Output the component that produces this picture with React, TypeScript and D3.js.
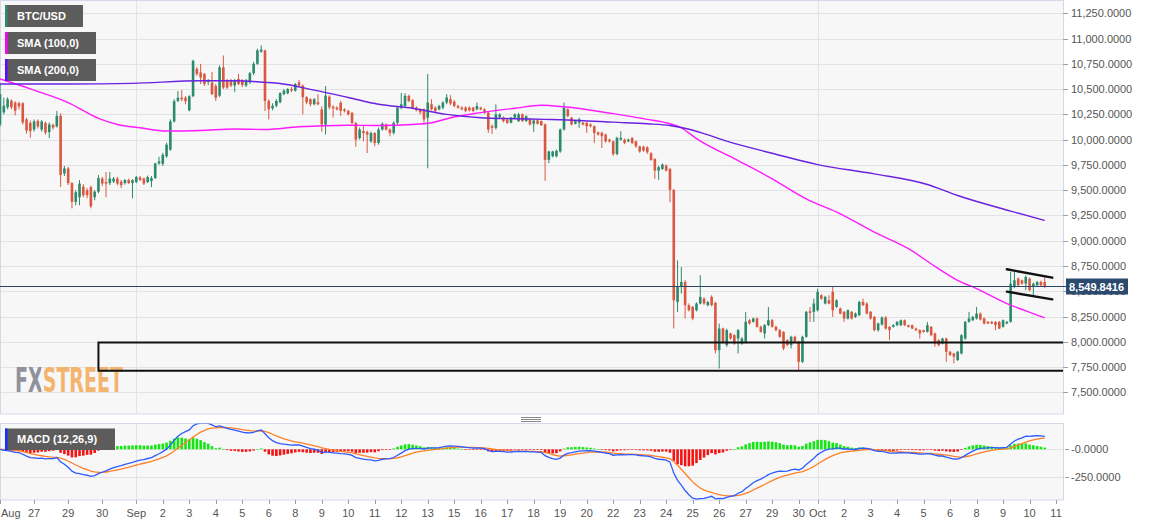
import React from 'react';
import * as d3 from 'd3';

// ---------- DATA (4h candles, Aug 26 – Oct 11) ----------
const openP = [
  10150, 10270, 10320, 10385, 10365, 10360, 10360, 10200, 10165, 10100,
  10185, 10100, 10165, 10075, 10145, 10130, 10235, 9665, 9715, 9570,
  9385, 9430, 9535, 9500, 9530, 9430, 9485, 9615, 9580, 9570,
  9585, 9615, 9585, 9570, 9600, 9570, 9580, 9625, 9615, 9580,
  9590, 9620, 9765, 9760, 9835, 9900, 10180, 10383, 10415, 10415,
  10290, 10430, 10700, 10665, 10650, 10570, 10565, 10530, 10435, 10715,
  10585, 10585, 10535, 10600, 10590, 10535, 10567, 10657, 10750, 10870,
  10883, 10383, 10310, 10335, 10370, 10450, 10460, 10500, 10485, 10567,
  10535, 10420, 10400, 10350, 10370, 10300, 10150, 10425, 10325, 10317,
  10365, 10300, 10285, 10265, 10165, 10017, 10085, 10075, 9983, 10065,
  9967, 10100, 10150, 10100, 10067, 10167, 10317, 10333, 10433, 10390,
  10317, 10300, 10300, 10217, 10350, 10317, 10300, 10317, 10367, 10400,
  10377, 10333, 10317, 10317, 10317, 10317, 10300, 10317, 10300, 10267,
  10133, 10117, 10223, 10217, 10200, 10167, 10217, 10183, 10250, 10183,
  10200, 10157, 10190, 10183, 10150, 9800, 9835, 9835, 9883, 10100,
  10300, 10217, 10157, 10167, 10167, 10167, 10150, 10133, 10073, 10067,
  10050, 10000, 9983, 9857, 10000, 10000, 9983, 10017, 9983, 9933,
  9931, 9924, 9865, 9809, 9694, 9710, 9743, 9710, 9503, 8394,
  8542, 8592, 8362, 8345, 8312, 8378, 8427, 8362, 8444, 8385,
  7917, 8131, 7967, 8082, 8065, 8032, 7983, 7999, 8213, 8197,
  8230, 8148, 8082, 8164, 8213, 8148, 8115, 8098, 8016, 7967,
  8049, 7999, 7802, 8049, 8302, 8296, 8312, 8460, 8378, 8411,
  8493, 8345, 8329, 8296, 8230, 8296, 8246, 8263, 8394, 8378,
  8296, 8246, 8115, 8170, 8240, 8148, 8148, 8164, 8164, 8213,
  8164, 8164, 8131, 8115, 8115, 8098, 8148, 8082, 8016, 7983,
  8032, 7901, 7884, 7819, 7884, 8032, 8197, 8213, 8230, 8279,
  8230, 8197, 8197, 8197, 8197, 8148, 8181, 8197, 8542, 8625,
  8608, 8575, 8625, 8542, 8559, 8592, 8592,
];
const highP = [
  10560, 10415, 10420, 10400, 10380, 10375, 10370, 10215, 10190, 10200,
  10200, 10195, 10180, 10170, 10160, 10285, 10260, 9740, 9730, 9580,
  9500, 9600, 9560, 9520, 9545, 9500, 9650, 9630, 9680, 9680,
  9630, 9630, 9600, 9610, 9615, 9610, 9640, 9640, 9625, 9645,
  9640, 9770, 9830, 9870, 9970, 10200, 10400, 10480, 10490, 10430,
  10440, 10790, 10720, 10750, 10660, 10600, 10670, 10550, 10735, 10833,
  10600, 10600, 10600, 10650, 10600, 10600, 10670, 10770, 10900, 10933,
  10890, 10400, 10360, 10400, 10470, 10500, 10510, 10520, 10560, 10590,
  10545, 10430, 10410, 10410, 10450, 10330, 10530, 10440, 10340, 10330,
  10385, 10310, 10295, 10275, 10175, 10120, 10135, 10090, 10080, 10075,
  10120, 10170, 10160, 10110, 10180, 10330, 10460, 10460, 10445, 10400,
  10330, 10310, 10310, 10650, 10400, 10330, 10345, 10380, 10450, 10440,
  10390, 10345, 10330, 10330, 10330, 10325, 10367, 10325, 10310, 10280,
  10150, 10350, 10260, 10230, 10210, 10225, 10260, 10265, 10260, 10240,
  10210, 10200, 10200, 10190, 10160, 9890, 9890, 9900, 10110, 10367,
  10310, 10225, 10190, 10217, 10175, 10175, 10160, 10140, 10080, 10080,
  10060, 10010, 9990, 10030, 10083, 10010, 10010, 10025, 9990, 9940,
  9940, 9935, 9875, 9815, 9740, 9765, 9755, 9720, 9510, 8806,
  8740, 8610, 8380, 8355, 8390, 8658, 8440, 8405, 8460, 8395,
  8180, 8140, 8130, 8090, 8075, 8125, 8045, 8296, 8225, 8240,
  8240, 8160, 8175, 8345, 8225, 8160, 8125, 8105, 8025, 8060,
  8060, 8010, 8060, 8305, 8345, 8427, 8526, 8470, 8455, 8460,
  8542, 8420, 8340, 8305, 8320, 8305, 8290, 8405, 8427, 8390,
  8305, 8255, 8190, 8250, 8255, 8155, 8175, 8205, 8220, 8220,
  8170, 8170, 8140, 8125, 8120, 8197, 8155, 8090, 8025, 8040,
  8040, 7910, 7890, 7910, 8075, 8205, 8296, 8255, 8345, 8290,
  8240, 8205, 8205, 8205, 8205, 8220, 8205, 8690, 8690, 8635,
  8615, 8658, 8635, 8585, 8600, 8605, 8640,
];
const lowP = [
  10130, 10250, 10300, 10300, 10240, 10300, 10150, 10060, 10020, 10080,
  10110, 10080, 10050, 10015, 10100, 10120, 9530, 9640, 9550, 9320,
  9350, 9350, 9430, 9420, 9320, 9400, 9470, 9540, 9430, 9550,
  9570, 9550, 9520, 9555, 9560, 9420, 9570, 9590, 9550, 9570,
  9530, 9610, 9750, 9740, 9820, 9890, 10170, 10370, 10380, 10350,
  10280, 10420, 10630, 10550, 10530, 10540, 10440, 10383, 10420, 10500,
  10500, 10520, 10470, 10540, 10520, 10520, 10550, 10640, 10740, 10860,
  10283, 10200, 10290, 10320, 10360, 10440, 10450, 10470, 10475, 10525,
  10250, 10350, 10330, 10340, 10340, 10080, 10050, 10300, 10220, 10290,
  10235, 10270, 10240, 10150, 9930, 10000, 9983, 9867, 9970, 9933,
  9950, 10090, 10090, 10033, 10050, 10150, 10300, 10320, 10370, 10300,
  10280, 10250, 10167, 9717, 10290, 10270, 10290, 10300, 10350, 10340,
  10320, 10305, 10290, 10270, 10280, 10270, 10290, 10290, 10255, 10067,
  10057, 10100, 10210, 10170, 10155, 10160, 10210, 10175, 10175, 10175,
  10140, 10077, 10150, 10135, 9593, 9767, 9825, 9825, 9870, 10090,
  10220, 10140, 10150, 10117, 10140, 10067, 10120, 9967, 10040, 9917,
  9970, 9970, 9840, 9845, 9990, 9955, 9975, 9955, 9920, 9870,
  9880, 9860, 9790, 9612, 9602, 9700, 9685, 9381, 8131, 8296,
  8477, 8230, 8300, 8213, 8300, 8370, 8365, 8350, 8350, 7884,
  7736, 7985, 7950, 8020, 7970, 7884, 7970, 7985, 8170, 8190,
  8140, 8090, 8032, 8155, 8140, 8105, 8040, 7917, 7955, 7934,
  7990, 7720, 7790, 8040, 8197, 8197, 8300, 8415, 8370, 8370,
  8246, 8335, 8270, 8197, 8220, 8220, 8235, 8255, 8355, 8270,
  8220, 8105, 8100, 8160, 8120, 8016, 8140, 8155, 8155, 8155,
  8140, 8125, 8105, 8032, 8090, 8090, 8055, 7950, 7955, 7975,
  7802, 7860, 7786, 7810, 7875, 8020, 8190, 8205, 8220, 8210,
  8170, 8175, 8175, 8115, 8125, 8140, 8175, 8190, 8530, 8550,
  8565, 8510, 8500, 8460, 8550, 8550, 8530,
];
const closeP = [
  10450, 10335, 10400, 10320, 10285, 10330, 10170, 10090, 10085, 10180,
  10130, 10180, 10070, 10150, 10120, 10235, 9650, 9715, 9570, 9385,
  9480, 9565, 9450, 9450, 9340, 9485, 9620, 9565, 9565, 9615,
  9615, 9565, 9550, 9600, 9570, 9600, 9630, 9600, 9565, 9630,
  9620, 9765, 9785, 9850, 9950, 10180, 10380, 10415, 10400, 10380,
  10430, 10780, 10650, 10615, 10550, 10585, 10450, 10415, 10715, 10515,
  10515, 10535, 10585, 10550, 10540, 10585, 10657, 10750, 10883, 10890,
  10383, 10300, 10335, 10383, 10460, 10485, 10500, 10485, 10550, 10535,
  10420, 10370, 10350, 10400, 10350, 10150, 10435, 10320, 10310, 10300,
  10285, 10285, 10250, 10165, 10000, 10100, 10065, 10050, 10065, 9967,
  10100, 10157, 10100, 10067, 10167, 10317, 10350, 10433, 10383, 10317,
  10290, 10270, 10200, 10367, 10300, 10283, 10333, 10367, 10417, 10357,
  10333, 10317, 10300, 10283, 10290, 10283, 10333, 10300, 10267, 10100,
  10117, 10250, 10250, 10183, 10167, 10217, 10250, 10250, 10183, 10233,
  10150, 10190, 10157, 10143, 9800, 9883, 9883, 9890, 10100, 10317,
  10233, 10150, 10183, 10200, 10150, 10133, 10133, 10067, 10050, 10033,
  9983, 9983, 9857, 10017, 10017, 9967, 10000, 9967, 9933, 9883,
  9891, 9875, 9799, 9694, 9727, 9753, 9694, 9503, 8411, 8542,
  8592, 8362, 8312, 8230, 8378, 8444, 8378, 8394, 8362, 7917,
  8131, 7999, 8115, 8032, 7983, 8115, 8032, 8197, 8181, 8230,
  8148, 8098, 8164, 8213, 8148, 8115, 8049, 7934, 7967, 8049,
  7999, 7802, 8049, 8296, 8286, 8378, 8493, 8427, 8444, 8378,
  8312, 8411, 8279, 8230, 8312, 8230, 8279, 8394, 8362, 8279,
  8230, 8115, 8181, 8240, 8131, 8115, 8164, 8197, 8213, 8164,
  8148, 8131, 8115, 8082, 8098, 8164, 8065, 7983, 7967, 8032,
  7901, 7868, 7852, 7901, 8065, 8197, 8230, 8246, 8279, 8220,
  8181, 8181, 8181, 8164, 8131, 8213, 8197, 8575, 8608, 8559,
  8575, 8641, 8510, 8575, 8592, 8559, 8549.8416,
];

// SMA readings [candle index, value]
const sma100: Array<[number, number]> = [
  [0, 10600], [9, 10490], [18, 10367], [26, 10210], [31, 10150], [37, 10117], [44, 10085],
  [53, 10090], [62, 10105], [70, 10100], [79, 10127], [92, 10143], [100, 10140], [109, 10150],
  [114, 10167], [119, 10217], [127, 10267], [136, 10310], [143, 10340], [149, 10325], [162, 10257],
  [171, 10200], [177, 10157], [180, 10117], [184, 10010], [195, 9793], [204, 9612], [213, 9414],
  [222, 9266], [231, 9085], [240, 8921], [247, 8746], [253, 8608], [258, 8526], [267, 8362],
  [271, 8306], [276, 8236],
];
const sma200: Array<[number, number]> = [
  [0, 10550], [18, 10550], [35, 10557], [53, 10583], [62, 10583], [70, 10567], [74, 10555],
  [83, 10490], [92, 10417], [100, 10350], [109, 10310], [118, 10250], [127, 10217], [136, 10207],
  [144, 10200], [153, 10190], [162, 10173], [171, 10157], [177, 10140], [180, 10120], [186, 10060],
  [192, 9985], [204, 9865], [216, 9753], [231, 9661], [245, 9556], [253, 9447], [267, 9293],
  [276, 9200],
];

const lastPrice = 8549.8416;
const supportZone = { top: 7992, bottom: 7714, start: 26 };
const flagUpper: Array<[number, number]> = [[266, 8717], [278, 8634]];
const flagLower: Array<[number, number]> = [[266, 8496], [278, 8420]];

const priceTicks = d3.range(7500, 11251, 250);
const macdTicks: Array<[number, string]> = [[0, '-0.0000'], [-250, '-250.0000']];
const xTicks: Array<[number, string]> = [
  [0, 'Aug'], [9, '27'], [18, '29'], [27, '30'], [36, 'Sep'], [43, '2'], [50, '3'], [57, '4'],
  [64, '5'], [71, '6'], [78, '8'], [85, '9'], [92, '10'], [99, '11'], [106, '12'], [113, '13'],
  [120, '15'], [127, '16'], [134, '17'], [141, '18'], [148, '19'], [155, '20'], [162, '22'],
  [169, '23'], [176, '24'], [183, '25'], [190, '26'], [197, '27'], [204, '29'], [211, '30'],
  [216, 'Oct'], [223, '2'], [230, '3'], [237, '4'], [244, '5'], [251, '6'], [258, '8'],
  [265, '9'], [272, '10'], [279, '11'],
];
const monthStarts = [36, 216];

const legends = [
  { label: 'BTC/USD', color: '#2e8b6f', w: 78 },
  { label: 'SMA (100,0)', color: '#ff00ff', w: 91 },
  { label: 'SMA (200,0)', color: '#5a0cff', w: 91 },
];

// ---------- LAYOUT ----------
const W = 1153, H = 526;
const PR = 1063;
const MAIN_B = 414;
const MACD_T = 423.5, MACD_B = 500;
const FONT = '"Liberation Sans", Arial, sans-serif';
const GREEN = '#2b8a6c', RED = '#d95840';

function ema(arr: number[], p: number) {
  const a = 2 / (p + 1);
  const out: number[] = [];
  arr.forEach((v, i) => out.push(i === 0 ? v : a * v + (1 - a) * out[i - 1]));
  return out;
}

export default function App() {
  const x = d3.scaleLinear().domain([0, 276]).range([0.04, 0.04 + 276 * 3.785]);
  const y = d3.scaleLinear().domain([7500, 11250]).range([392.3, 13.3]);
  const ym = d3.scaleLinear().domain([-250, 0]).range([476.7, 449.3]);

  const e12 = ema(closeP, 12), e26 = ema(closeP, 26);
  const macd = e12.map((v, i) => v - e26[i]);
  const signal = ema(macd, 9);
  const hist = macd.map((v, i) => v - signal[i]);

  const smaLine = d3.line<[number, number]>().x(d => x(d[0])).y(d => y(d[1])).curve(d3.curveMonotoneX);
  const macdLine = d3.line<number>().x((_, i) => x(i)).y(d => ym(d));
  const bw = 2.6;
  const py = Math.round(y(lastPrice)) + 0.5;

  return (
    <svg width={W} height={H} style={{ position: 'absolute', left: 0, top: 0, background: '#fff' }} fontFamily={FONT}>
      <defs>
        <clipPath id="mainClip"><rect x={0} y={0} width={PR} height={MAIN_B} /></clipPath>
        <clipPath id="macdClip"><rect x={0} y={MACD_T} width={PR} height={MACD_B - MACD_T} /></clipPath>
        <linearGradient id="wmGrad" gradientUnits="userSpaceOnUse" x1={15} x2={123} y1={0} y2={0}>
          <stop offset="0.237" stopColor="#8f919c" />
          <stop offset="0.237" stopColor="#f2b46e" />
        </linearGradient>
      </defs>
      <rect x={0} y={0} width={W} height={H} fill="#fff" />
      {/* main pane */}
      <rect x={0.5} y={0.5} width={PR} height={MAIN_B - 0.5} fill="#f7f7f7" stroke="#d3d9e6" />
      {priceTicks.map(t => (
        <line key={'g' + t} x1={1} x2={PR} y1={Math.round(y(t)) + 0.5} y2={Math.round(y(t)) + 0.5} stroke="#e2e2e2" />
      ))}
      {monthStarts.map(i => (
        <line key={'v' + i} x1={Math.round(x(i)) + 0.5} x2={Math.round(x(i)) + 0.5} y1={1} y2={MAIN_B} stroke="#e2e2e2" />
      ))}
      {/* watermark */}
      <text x={15} y={392} fontSize={33} fontWeight="bold" textLength={108} lengthAdjust="spacingAndGlyphs"
        fill="url(#wmGrad)" fontFamily='"DejaVu Sans Condensed", "Liberation Sans Narrow", sans-serif'>FXSTREET</text>

      <g clipPath="url(#mainClip)">
        {/* candles */}
        {closeP.map((c, i) => {
          const o = openP[i];
          const col = c >= o ? GREEN : RED;
          const cx = x(i);
          const top = y(Math.max(o, c));
          const bot = y(Math.min(o, c));
          return (
            <g key={'c' + i}>
              <line x1={cx} x2={cx} y1={y(highP[i])} y2={y(lowP[i])} stroke={col} strokeWidth={1} />
              <rect x={cx - bw / 2} y={top} width={bw} height={Math.max(1, bot - top)} fill={col} />
            </g>
          );
        })}
        <path d={smaLine(sma100) || ''} fill="none" stroke="#ff1aff" strokeWidth={1.4} />
        <path d={smaLine(sma200) || ''} fill="none" stroke="#6a22e0" strokeWidth={1.4} />
        {/* current price line */}
        <line x1={0} x2={PR} y1={py} y2={py} stroke="#2b4569" strokeWidth={1} />
        {/* support zone */}
        <path
          d={`M${PR},${y(supportZone.top)}H${x(supportZone.start)}V${y(supportZone.bottom)}H${PR}`}
          fill="none" stroke="#111" strokeWidth={2}
        />
        {/* flag */}
        {[flagUpper, flagLower].map((f, k) => (
          <line key={'f' + k} x1={x(f[0][0])} y1={y(f[0][1])} x2={x(f[1][0])} y2={y(f[1][1])} stroke="#111" strokeWidth={2.4} strokeLinecap="round" />
        ))}
      </g>
      {/* price axis */}
      {priceTicks.map(t => (
        <g key={'t' + t}>
          <line x1={PR} x2={PR + 5} y1={Math.round(y(t)) + 0.5} y2={Math.round(y(t)) + 0.5} stroke="#9aa0ab" />
          <text x={1071} y={y(t) + 4} fontSize={11} fill="#555">{d3.format(',.4f')(t)}</text>
        </g>
      ))}
      <line x1={PR} x2={1067} y1={py} y2={py} stroke="#2b4569" />
      <rect x={1066} y={py - 8} width={62} height={16} fill="#2b4a6e" />
      <text x={1069} y={py + 4} fontSize={11} fontWeight="bold" fill="#fff">{d3.format(',.4f')(lastPrice)}</text>

      {/* legends */}
      {legends.map((l, k) => (
        <g key={'l' + k}>
          <rect x={5} y={5 + k * 27} width={l.w} height={22} fill="#5c5c5c" />
          <rect x={5} y={5 + k * 27} width={2.5} height={22} fill={l.color} />
          <text x={17} y={20 + k * 27} fontSize={11} fontWeight="bold" fill="#fff">{l.label}</text>
        </g>
      ))}

      {/* separator handle */}
      {[417.5, 419.5, 421.5].map(v => (
        <line key={'s' + v} x1={521} x2={541} y1={v} y2={v} stroke="#8a8a8a" />
      ))}

      {/* MACD pane */}
      <rect x={0.5} y={MACD_T} width={PR} height={MACD_B - MACD_T} fill="#f7f7f7" stroke="#d3d9e6" />
      {macdTicks.map(([v]) => (
        <line key={'mg' + v} x1={1} x2={PR} y1={Math.round(ym(v)) + 0.5} y2={Math.round(ym(v)) + 0.5} stroke="#e2e2e2" />
      ))}
      {monthStarts.map(i => (
        <line key={'mv' + i} x1={Math.round(x(i)) + 0.5} x2={Math.round(x(i)) + 0.5} y1={MACD_T} y2={MACD_B} stroke="#e2e2e2" />
      ))}
      <g clipPath="url(#macdClip)">
        {hist.map((h, i) => (
          <rect key={'h' + i} x={x(i) - bw / 2} y={Math.min(ym(0), ym(h))} width={bw}
            height={Math.max(0.6, Math.abs(ym(h) - ym(0)))} fill={h >= 0 ? '#14e614' : '#f41414'} />
        ))}
        <path d={macdLine(signal) || ''} fill="none" stroke="#ff7f27" strokeWidth={1.3} />
        <path d={macdLine(macd) || ''} fill="none" stroke="#2d5bff" strokeWidth={1.3} />
      </g>
      {macdTicks.map(([v, s]) => (
        <g key={'mt' + v}>
          <line x1={PR + 2} x2={PR + 6} y1={Math.round(ym(v)) + 0.5} y2={Math.round(ym(v)) + 0.5} stroke="#9aa0ab" />
          <text x={1071} y={ym(v) + 4} fontSize={11} fill="#555">{s}</text>
        </g>
      ))}
      <g>
        <rect x={5} y={428.5} width={110} height={21.5} fill="#5c5c5c" />
        <rect x={5} y={428.5} width={2.5} height={21.5} fill="#1030ff" />
        <text x={17} y={443} fontSize={11} fontWeight="bold" fill="#fff">MACD (12,26,9)</text>
      </g>

      {/* x axis */}
      {xTicks.map(([i, s]) => (
        <g key={'x' + i}>
          <line x1={Math.round(x(i)) + 0.5} x2={Math.round(x(i)) + 0.5} y1={MACD_B} y2={MACD_B + 4} stroke="#9aa0ab" />
          <text x={i === 0 ? 1 : x(i)} y={517} fontSize={11} fill="#555" textAnchor={i === 0 ? 'start' : 'middle'}>{s}</text>
        </g>
      ))}
    </svg>
  );
}
